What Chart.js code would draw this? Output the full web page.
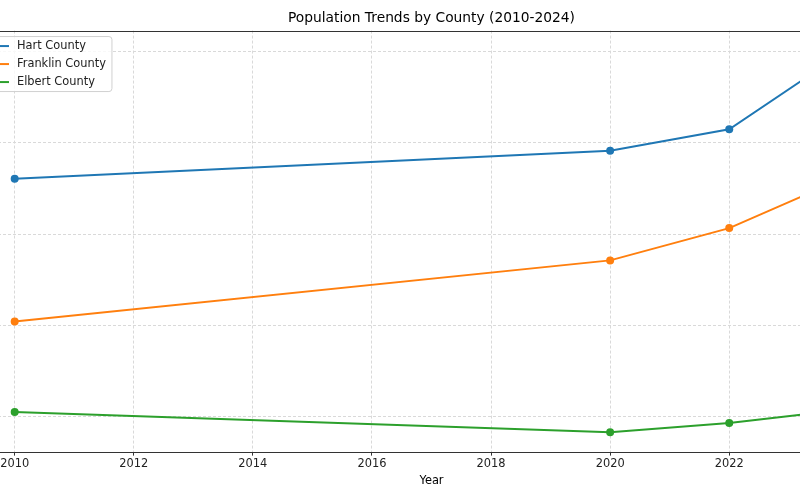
<!DOCTYPE html>
<html>
<head>
<meta charset="utf-8">
<script src="https://cdn.jsdelivr.net/npm/chart.js@4.4.1/dist/chart.umd.min.js"></script>
<style>
html, body { margin: 0; padding: 0; overflow: hidden; background: #fff; width: 800px; height: 500px; }
#wrap { position: absolute; left: -60px; top: 0; width: 983px; height: 500px; }
</style>
</head>
<body>
<div id="wrap"><canvas id="chart"></canvas></div>
<script>
const years = [2010, 2020, 2022, 2024];
const countyNames = ["Hart County", "Franklin County", "Elbert County"];
const hartPop = [25213, 25828, 26296, 28050];
const franklinPop = [22084, 23424, 24131, 25270];
const elbertPop = [20100, 19656, 19858, 20160];
const countyColors = ["#1f77b4", "#ff7f0e", "#2ca02c"];
const xTicks = [2010, 2012, 2014, 2016, 2018, 2020, 2022, 2024];
const yTicks = [20000, 22000, 24000, 26000, 28000];

Chart.defaults.font.family = "'DejaVu Sans', sans-serif";
Chart.defaults.color = "#222";

function series(values) {
    return years.map((y, i) => ({ x: y, y: values[i] }));
}

const frameAndLegend = {
    id: "frameAndLegend",
    afterDraw(chart) {
        const ctx = chart.ctx;
        const a = chart.chartArea;
        ctx.save();
        // axes frame
        ctx.strokeStyle = "#333";
        ctx.lineWidth = 1;
        ctx.strokeRect(a.left + 0.5, Math.round(a.top) + 0.5, a.right - a.left, Math.round(a.bottom - a.top));

        // legend box, upper left inside the axes
        ctx.font = "11.4px 'DejaVu Sans'";
        const widest = Math.max(...chart.data.datasets.map(d => ctx.measureText(d.label).width));
        const bx = a.left + 6, by = a.top + 6;
        const bw = 38 + widest + 6, bh = 55;
        ctx.fillStyle = "rgba(255,255,255,0.8)";
        ctx.strokeStyle = "#d0d0d0";
        ctx.beginPath();
        ctx.roundRect(bx, by, bw, bh, 3);
        ctx.fill();
        ctx.stroke();
        chart.data.datasets.forEach((d, i) => {
            const cy = by + 9.5 + i * 18;
            ctx.strokeStyle = d.borderColor;
            ctx.lineWidth = 2;
            ctx.beginPath();
            ctx.moveTo(bx + 8, cy);
            ctx.lineTo(bx + 30, cy);
            ctx.stroke();
            ctx.fillStyle = "#222";
            ctx.textBaseline = "middle";
            ctx.fillText(d.label, bx + 38, cy);
        });
        ctx.restore();
    }
};

new Chart(document.getElementById("chart").getContext("2d"), {
    type: "line",
    data: {
        datasets: [hartPop, franklinPop, elbertPop].map((vals, i) => ({
            label: countyNames[i],
            data: series(vals),
            borderColor: countyColors[i],
            backgroundColor: countyColors[i],
            borderWidth: 2,
            pointRadius: 4,
            pointBorderWidth: 0,
            tension: 0
        }))
    },
    options: {
        responsive: true,
        maintainAspectRatio: false,
        animation: false,
        layout: { padding: { left: 33, right: 33, top: 0, bottom: 12 } },
        plugins: {
            legend: { display: false },
            tooltip: { enabled: false },
            title: {
                display: true,
                text: "Population Trends by County (2010-2024)",
                color: "#000",
                font: { size: 13.8, weight: "normal" },
                padding: { top: 10, bottom: 4 }
            }
        },
        scales: {
            x: {
                type: "linear",
                min: 2009.3,
                max: 2024.7,
                afterBuildTicks: (scale) => { scale.ticks = xTicks.map(v => ({ value: v })); },
                ticks: {
                    callback: (v) => String(v),
                    autoSkip: false,
                    maxRotation: 0,
                    padding: 2,
                    color: "#222",
                    font: { size: 11.4 }
                },
                grid: {
                    color: "#d9d9d9",
                    tickColor: "#333",
                    tickLength: 4,
                    tickBorderDash: []
                },
                border: { display: false, dash: [3, 2] },
                title: {
                    display: true,
                    text: "Year",
                    color: "#000",
                    font: { size: 11.4 },
                    padding: { top: 1, bottom: 0 }
                }
            },
            y: {
                min: 19233,
                max: 28460,
                afterBuildTicks: (scale) => { scale.ticks = yTicks.map(v => ({ value: v })); },
                ticks: { display: false },
                grid: { color: "#d9d9d9", drawTicks: false },
                border: { display: false, dash: [3, 2] }
            }
        }
    },
    plugins: [frameAndLegend]
});
</script>
</body>
</html>
